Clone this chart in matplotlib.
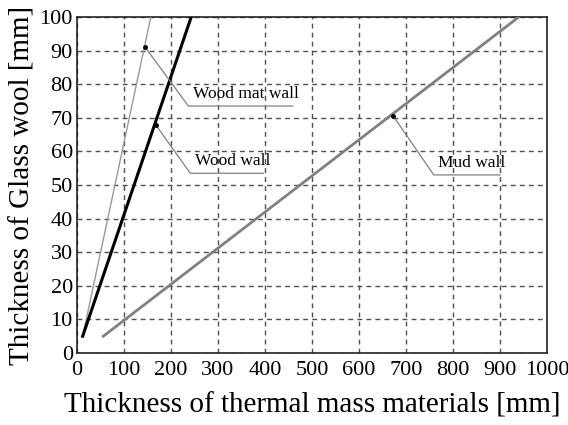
import matplotlib
matplotlib.use("Agg")
import matplotlib.pyplot as plt

# line end points (x: thermal mass mm, y: glass wool mm)
woodmat_x = [12, 157]
woodmat_y = [5, 100]
wood_x = [12, 243]
wood_y = [5, 100]
mud_x = [56, 940]
mud_y = [5, 100]

# annotation: label, point on line, elbow, end of underline
labels = ["Wood mat wall", "Wood wall", "Mud wall"]
label_pts = [(145, 91), (167, 68), (673, 70.5)]
label_elbow = [(237, 73.5), (241, 53.5), (759, 53)]
label_end = [459, 397, 900]

xticks = list(range(0, 1001, 100))
yticks = list(range(0, 101, 10))

plt.rcParams['font.family'] = ['Liberation Serif', 'DejaVu Serif']

fig = plt.figure(figsize=(5.68, 4.25), dpi=100)
ax = fig.add_axes([0.1356, 0.1694, 0.8274, 0.7906])

ax.plot(woodmat_x, woodmat_y, color='#9a9a9a', lw=1.0, zorder=3)
ax.plot(wood_x, wood_y, color='black', lw=2.2, zorder=3)
ax.plot(mud_x, mud_y, color='#808080', lw=2.0, zorder=3)

for lab, p, e, xe in zip(labels, label_pts, label_elbow, label_end):
    ax.plot([p[0], e[0], xe], [p[1], e[1], e[1]], color='#808080', lw=0.9, zorder=4)
    ax.plot(p[0], p[1], 'o', color='black', ms=2.5, zorder=5)
    ax.text(e[0] + 10, e[1] + 1.3, lab, fontsize=12.5, ha='left', va='bottom', zorder=5)

ax.set_xlim(0, 1000)
ax.set_ylim(0, 100)
ax.set_xticks(xticks)
ax.set_yticks(yticks)
ax.tick_params(axis='x', length=0, labelsize=16, pad=6)
ax.tick_params(axis='y', length=0, labelsize=16, pad=3)
ax.grid(True, color='#505050', linestyle=(0, (3.5, 3)), lw=1.0)
for s in ax.spines.values():
    s.set_linewidth(1.2)
    s.set_color('#222222')

ax.set_xlabel("Thickness of thermal mass materials [mm]", fontsize=21, labelpad=9)
ax.set_ylabel("Thickness of Glass wool [mm]", fontsize=21, labelpad=3)

fig.savefig("out.png", dpi=100)
